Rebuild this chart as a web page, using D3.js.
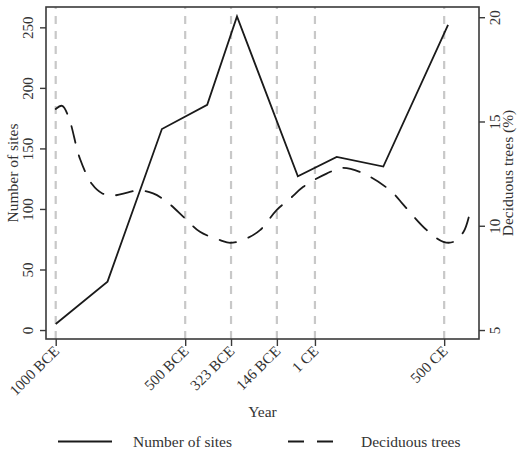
<!DOCTYPE html>
<html><head><meta charset="utf-8">
<script src="https://cdn.jsdelivr.net/npm/d3@7"></script>
<style>
body{margin:0;background:#fff;}
text{font-family:"Liberation Serif","DejaVu Serif",serif;fill:#333;}
</style></head>
<body><svg id="c" width="519" height="450"></svg>
<script>
// Data
const siteYears = [-1000, -800, -590, -415, -300, -65, 85, 265, 515];
const siteCounts = [5, 40, 166, 186, 259, 127, 143, 135, 252];
const treeYears = [-1000, -975, -950, -906, -860, -820, -780, -720, -680, -624, -571, -500, -443, -365, -326, -264, -211, -147, -95, -44, 46, 110, 214, 304, 343, 433, 497, 536, 575, 597];
const treeValues = [15.6, 15.75, 15.2, 13.2, 12.0, 11.55, 11.45, 11.6, 11.7, 11.55, 11.15, 10.35, 9.71, 9.31, 9.18, 9.39, 9.79, 10.75, 11.3, 11.87, 12.5, 12.78, 12.35, 11.55, 11.0, 9.79, 9.23, 9.23, 9.71, 10.51];
const eventYears = [-1000, -500, -323, -146, 1, 500];
const eventLabels = ["1000 BCE", "500 BCE", "323 BCE", "146 BCE", "1 CE", "500 CE"];
const leftTicks = [0, 50, 100, 150, 200, 250];
const rightTicks = [5, 10, 15, 20];

const svg = d3.select("#c");
const L = 46, R = 479, T = 7, B = 339;
const x = d3.scaleLinear().domain([-1037.5, 634.5]).range([L, R]);
const yL = d3.scaleLinear().domain([-7.4, 266.8]).range([B, T]);
const yR = d3.scaleLinear().domain([4.57, 20.49]).range([B, T]);

// vertical event lines
svg.append("g").selectAll("line").data(eventYears).join("line")
  .attr("x1", d => x(d)).attr("x2", d => x(d)).attr("y1", B).attr("y2", T)
  .attr("stroke", "#c8c8c8").attr("stroke-width", 2.2)
  .attr("stroke-dasharray", "8,7").attr("stroke-linecap", "butt");

// sites line
const sites = siteYears.map((d, i) => [d, siteCounts[i]]);
svg.append("path").datum(sites)
  .attr("d", d3.line().x(d => x(d[0])).y(d => yL(d[1])))
  .attr("fill", "none").attr("stroke", "#1a1a1a").attr("stroke-width", 1.8)
  .attr("stroke-linejoin", "miter");

// trees line
const trees = treeYears.map((d, i) => [d, treeValues[i]]);
svg.append("path").datum(trees)
  .attr("d", d3.line().curve(d3.curveCatmullRom.alpha(0.5)).x(d => x(d[0])).y(d => yR(d[1])))
  .attr("fill", "none").attr("stroke", "#1a1a1a").attr("stroke-width", 1.8)
  .attr("stroke-dasharray", "17,13").attr("stroke-linecap", "round");

// box
svg.append("rect").attr("x", L).attr("y", T).attr("width", R - L).attr("height", B - T)
  .attr("fill", "none").attr("stroke", "#3a3a3a").attr("stroke-width", 1.6);

// left axis
const gl = svg.append("g").attr("transform", `translate(${L},0)`)
  .call(d3.axisLeft(yL).tickValues(leftTicks).tickSize(6).tickPadding(10).tickFormat(d3.format("d")));
gl.select(".domain").remove();
gl.selectAll(".tick line").attr("stroke", "#3a3a3a").attr("stroke-width", 1.4);
gl.selectAll(".tick text").attr("transform", "rotate(-90)").attr("x", 0).attr("y", -18)
  .attr("dy", "0.35em").attr("text-anchor", "middle").style("font-size", "15px");

// right axis
const gr = svg.append("g").attr("transform", `translate(${R},0)`)
  .call(d3.axisRight(yR).tickValues(rightTicks).tickSize(6).tickPadding(10).tickFormat(d3.format("d")));
gr.select(".domain").remove();
gr.selectAll(".tick line").attr("stroke", "#3a3a3a").attr("stroke-width", 1.4);
gr.selectAll(".tick text").attr("transform", "rotate(-90)").attr("x", 0).attr("y", 16)
  .attr("dy", "0.35em").attr("text-anchor", "middle").style("font-size", "15px");

// bottom axis
const gb = svg.append("g").attr("transform", `translate(0,${B})`)
  .call(d3.axisBottom(x).tickValues(eventYears).tickSize(7).tickFormat((d, i) => eventLabels[i]));
gb.select(".domain").remove();
gb.selectAll(".tick line").attr("stroke", "#3a3a3a").attr("stroke-width", 1.4);
gb.selectAll(".tick text").attr("x", 0).attr("y", 0).attr("dy", 0)
  .attr("transform", "translate(4,13) rotate(-45)").attr("text-anchor", "end")
  .style("font-size", "15px");

// axis titles
svg.append("text").attr("transform", `translate(18,${(T + B) / 2}) rotate(-90)`)
  .attr("text-anchor", "middle").style("font-size", "15.5px").text("Number of sites");
svg.append("text").attr("transform", `translate(513,${(T + B) / 2}) rotate(-90)`)
  .attr("text-anchor", "middle").style("font-size", "15.5px").text("Deciduous trees (%)");
svg.append("text").attr("x", (L + R) / 2).attr("y", 417)
  .attr("text-anchor", "middle").style("font-size", "15.5px").text("Year");

// legend
const lg = svg.append("g");
lg.append("line").attr("x1", 58).attr("x2", 112).attr("y1", 441.5).attr("y2", 441.5)
  .attr("stroke", "#1a1a1a").attr("stroke-width", 1.8);
lg.append("text").attr("x", 133).attr("y", 446.5).style("font-size", "15.5px").text("Number of sites");
lg.append("line").attr("x1", 288).attr("x2", 338).attr("y1", 441.5).attr("y2", 441.5)
  .attr("stroke", "#1a1a1a").attr("stroke-width", 1.8).attr("stroke-dasharray", "16,13");
lg.append("text").attr("x", 361).attr("y", 446.5).style("font-size", "15.5px").text("Deciduous trees");
</script></body></html>
